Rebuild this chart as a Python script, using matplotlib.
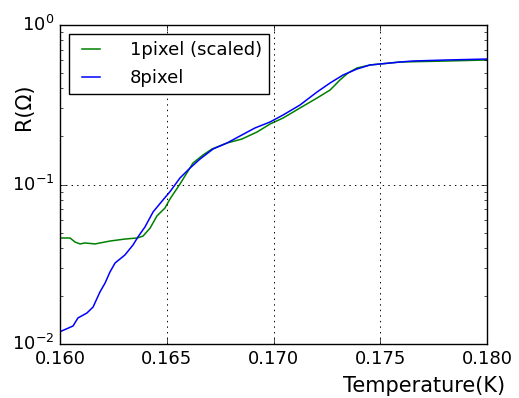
"""R(T) transition: 1pixel vs 8pixel"""

import matplotlib
matplotlib.use("Agg")
import matplotlib.pyplot as plt
import numpy as np

# 1pixel (scaled)
t_1pix = [0.16000, 0.16047, 0.16070, 0.16094, 0.16117, 0.16164, 0.16234, 0.16304,
          0.16361, 0.16389, 0.16422, 0.16454, 0.16492, 0.16515, 0.16562, 0.16623,
          0.16670, 0.16712, 0.16782, 0.16852, 0.16923, 0.16984, 0.17045, 0.17124,
          0.17204, 0.17265, 0.17311, 0.17349, 0.17391, 0.17452, 0.17593, 0.17813,
          0.18000]
r_1pix = [0.0462, 0.0462, 0.0436, 0.0424, 0.0430, 0.0424, 0.0442, 0.0455,
          0.0462, 0.0475, 0.0533, 0.0635, 0.0713, 0.0811, 0.1007, 0.1364,
          0.1531, 0.1670, 0.1820, 0.1928, 0.2134, 0.2395, 0.2612, 0.3017,
          0.3486, 0.3911, 0.4518, 0.5000, 0.5375, 0.5615, 0.5861, 0.5947,
          0.6036]

# 8pixel
t_8pix = [0.16000, 0.16061, 0.16084, 0.16126, 0.16155, 0.16187, 0.16211, 0.16234,
          0.16258, 0.16304, 0.16342, 0.16365, 0.16398, 0.16436, 0.16482, 0.16515,
          0.16562, 0.16609, 0.16656, 0.16717, 0.16782, 0.16843, 0.16913, 0.16984,
          0.17045, 0.17124, 0.17204, 0.17265, 0.17326, 0.17391, 0.17452, 0.17499,
          0.17593, 0.17653, 0.17813, 0.18000]
r_8pix = [0.01194, 0.01297, 0.01456, 0.01564, 0.01706, 0.02118, 0.02410, 0.02827,
          0.03222, 0.03615, 0.04177, 0.04688, 0.05418, 0.06729, 0.07993, 0.0901,
          0.1099, 0.1268, 0.1445, 0.1670, 0.1820, 0.2014, 0.2261, 0.2466,
          0.2728, 0.3150, 0.3802, 0.4329, 0.4860, 0.5297, 0.5615, 0.5694,
          0.5861, 0.5947, 0.6036, 0.6118]

x_ticks = [0.160, 0.165, 0.170, 0.175, 0.180]

plt.style.use("classic")
plt.rcParams["font.size"] = 13
plt.rcParams["figure.facecolor"] = "white"

fig = plt.figure(figsize=(5.19, 3.98), dpi=100)
ax = fig.add_axes([60 / 519, 1 - 344 / 398, 427 / 519, 319 / 398])

ax.semilogy(t_1pix, r_1pix, color="g", linewidth=1.1, label="1pixel (scaled)")
ax.semilogy(t_8pix, r_8pix, color="b", linewidth=1.1, label="8pixel")

ax.set_xlim(0.160, 0.180)
ax.set_ylim(1e-2, 1e0)
ax.set_xticks(x_ticks)
ax.set_xticklabels([f"{t:.3f}" for t in x_ticks])
ax.tick_params(labelsize=13)
ax.grid(True, which="major", linestyle=":", color="k", linewidth=0.7)

ax.set_xlabel("Temperature(K)", fontsize=15)
ax.set_ylabel("R(Ω)", fontsize=15)
ax.xaxis.set_label_coords(0.852, -0.100)
ax.yaxis.set_label_coords(-0.062, 0.745)

ax.legend(loc="upper left", fontsize=13, handlelength=1.6, handletextpad=1.35,
          labelspacing=0.55, borderaxespad=0.5)

fig.savefig("out.png", dpi=100, facecolor="white")
plt.close(fig)
